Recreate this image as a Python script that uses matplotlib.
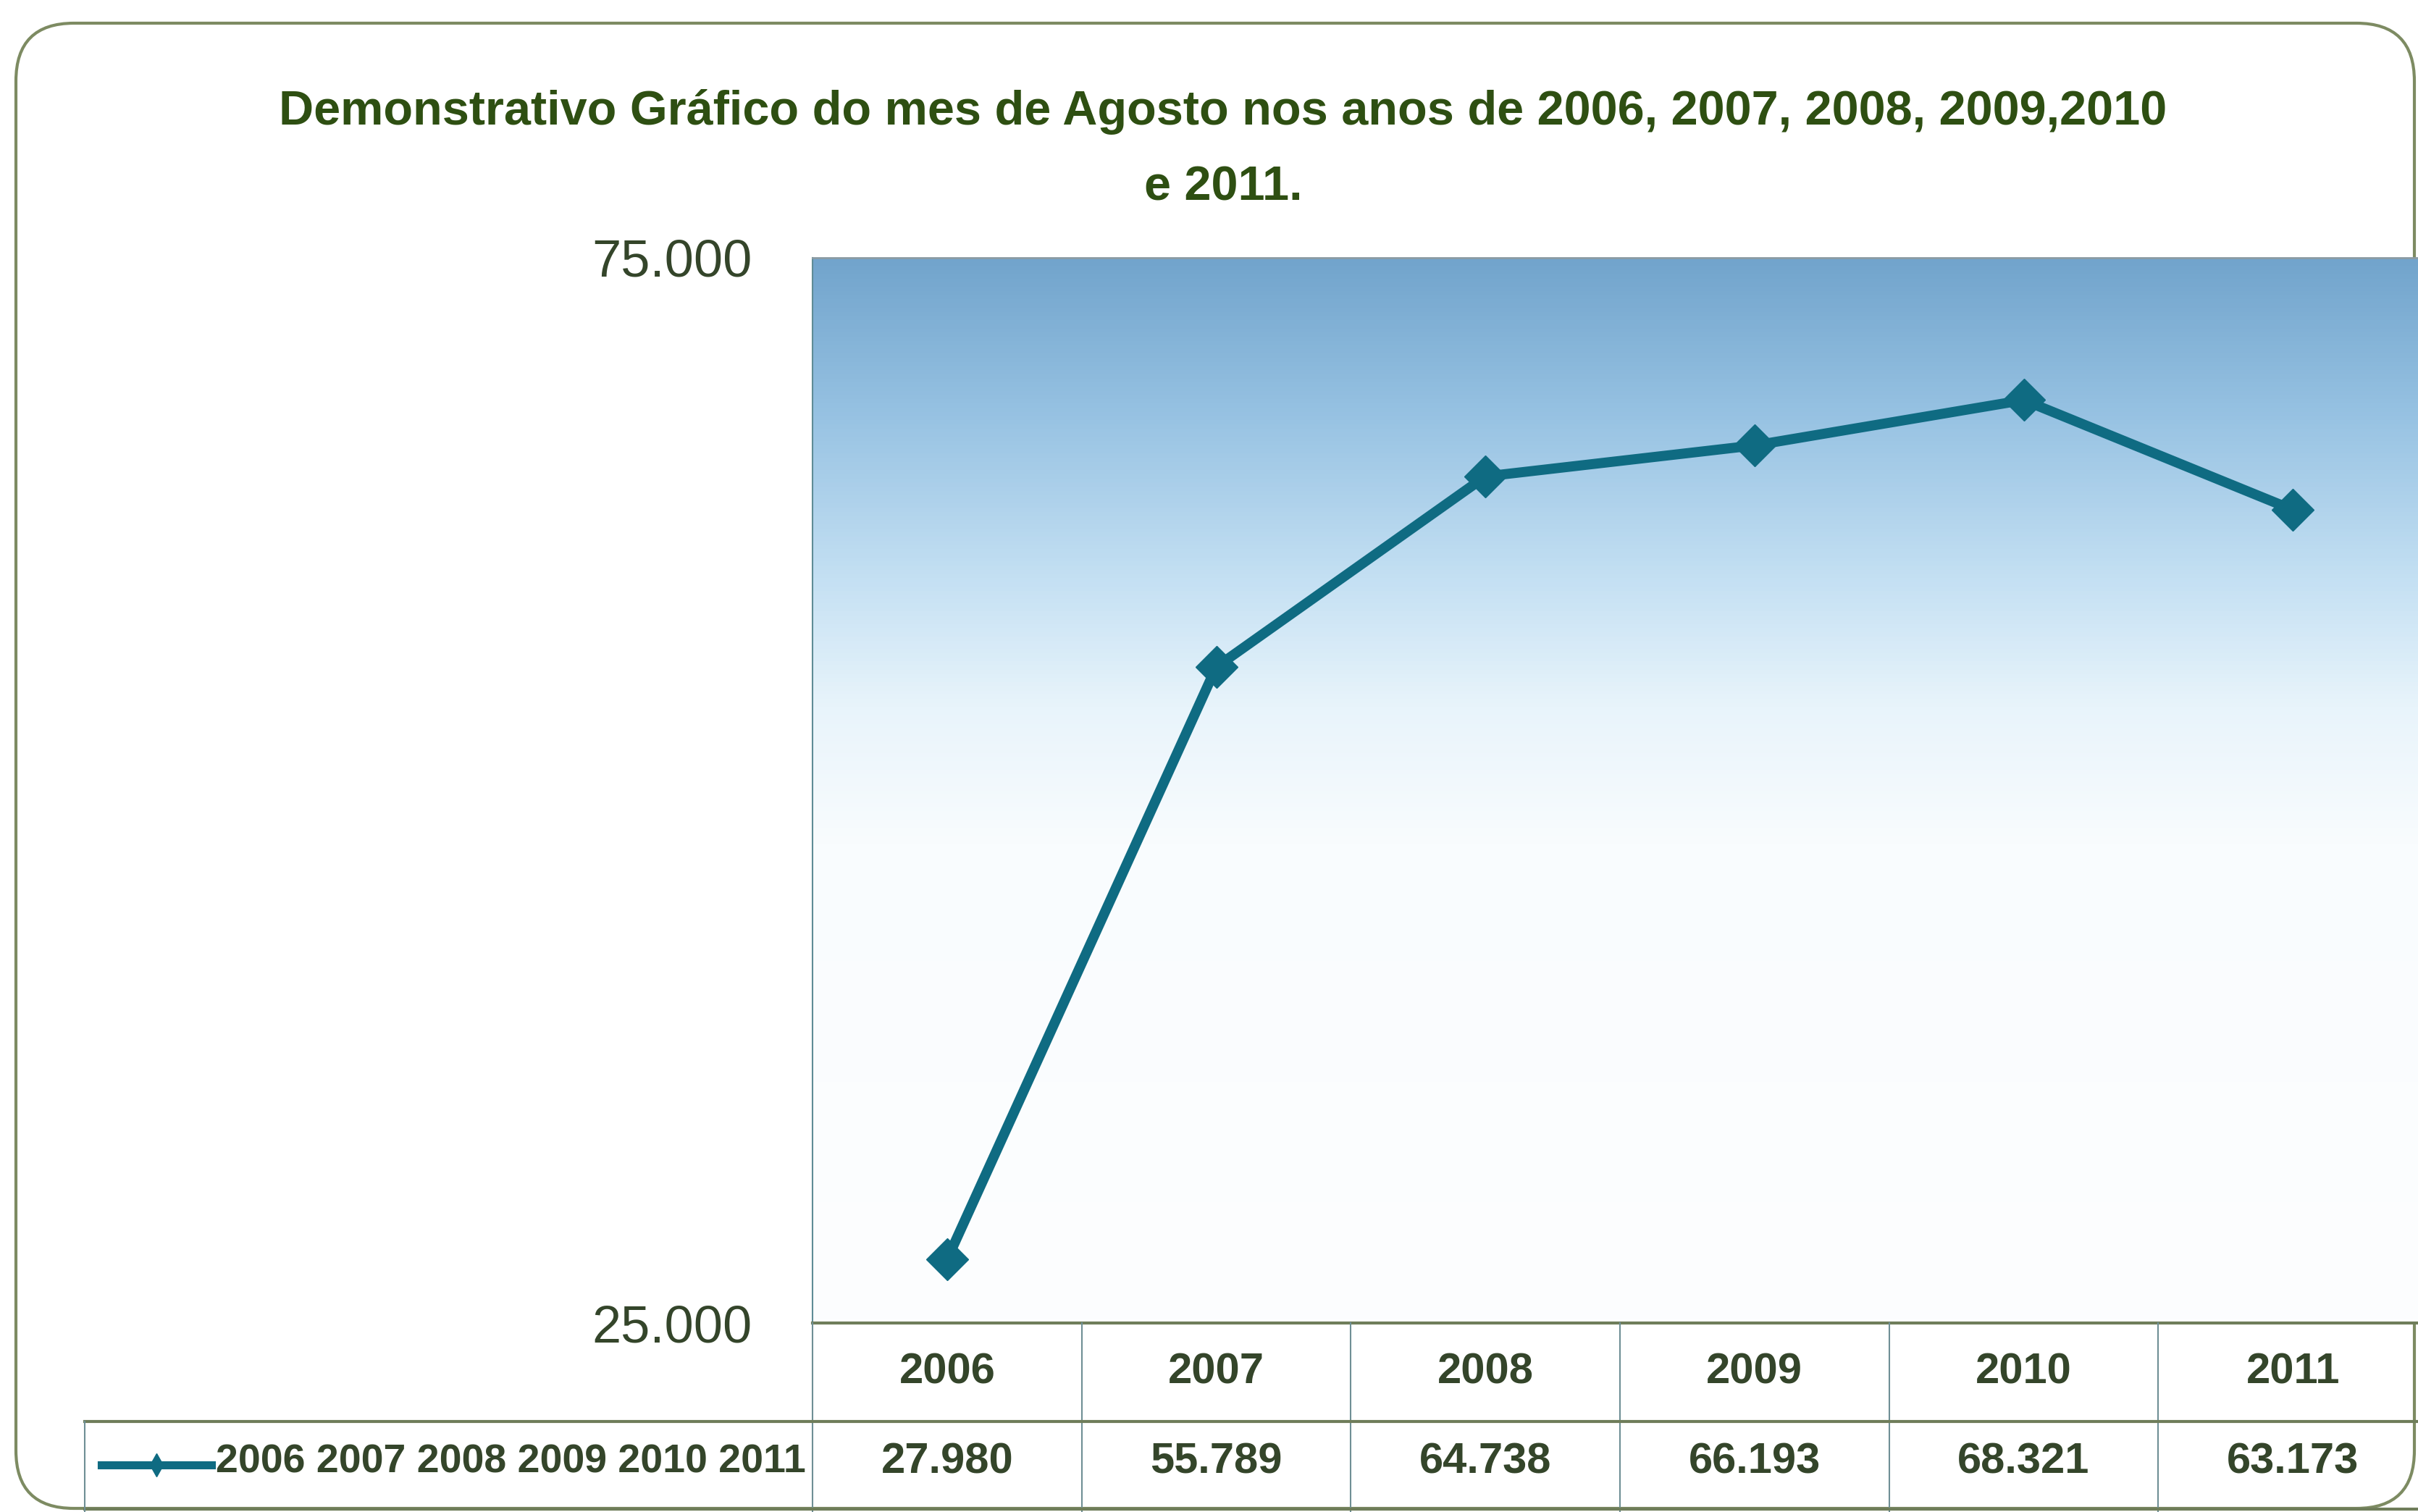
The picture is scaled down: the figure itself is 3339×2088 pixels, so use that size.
import matplotlib
matplotlib.use("Agg")
import matplotlib.pyplot as plt
import matplotlib.transforms as mtransforms
from matplotlib.colors import LinearSegmentedColormap
from matplotlib.lines import Line2D
from matplotlib.patches import FancyBboxPatch
import numpy as np

# dados do gráfico
anos = ["2006", "2007", "2008", "2009", "2010", "2011"]
valores = [27980, 55789, 64738, 66193, 68321, 63173]
y_ticks = [25000, 75000]
serie_nome = "2006 2007 2008 2009 2010 2011"
titulo_1 = "Demonstrativo Gráfico do mes de Agosto nos anos de 2006, 2007, 2008, 2009,2010"
titulo_2 = "e 2011."

plt.rcParams["font.family"] = ["Liberation Sans", "DejaVu Sans"]

W_PX, H_PX = 3339, 2088
VERDE = "#2e4f12"
TEXTO = "#34452a"
LINHA = "#0f6b82"


def fx(px):
    return px / W_PX


def fy(py):
    # py medido a partir do topo
    return 1 - py / H_PX


def fmt(v):
    return f"{v:,}".replace(",", ".")


fig = plt.figure(figsize=(W_PX / 100, H_PX / 100), dpi=100)
fig.patch.set_facecolor("white")

# moldura arredondada
moldura = FancyBboxPatch((22 / 100, 5 / 100), 3312 / 100, 2051 / 100,
                         boxstyle="round,pad=0,rounding_size=0.8",
                         transform=fig.dpi_scale_trans, facecolor="none",
                         edgecolor="#7d8b62", linewidth=3, zorder=0)
fig.add_artist(moldura)

# título
fig.text(fx(1689), fy(155), titulo_1, ha="center", va="center",
         fontsize=48, fontweight="bold", color=VERDE)
fig.text(fx(1689), fy(260), titulo_2, ha="center", va="center",
         fontsize=48, fontweight="bold", color=VERDE)

ax_left, ax_right, ax_top, ax_bottom = 1122, 3352, 356, 1827
ax = fig.add_axes([fx(ax_left), fy(ax_bottom), fx(ax_right - ax_left), (ax_bottom - ax_top) / H_PX])

# fundo em degradê azul
cmap = LinearSegmentedColormap.from_list(
    "fundo",
    [(0.0, "#fdfeff"), (0.45, "#f9fcfe"), (0.58, "#e8f4fb"), (0.7, "#c4e0f3"),
     (0.85, "#98c3e3"), (1.0, "#72a4cc")])
grad = np.linspace(0, 1, 256).reshape(-1, 1)
ax.imshow(grad, extent=[0, 1, 0, 1], transform=ax.transAxes, aspect="auto",
          cmap=cmap, origin="lower", zorder=0)

x = np.arange(len(anos))
ax.plot(x, valores, color=LINHA, linewidth=10, marker="D", markersize=30,
        markerfacecolor=LINHA, markeredgecolor=LINHA, zorder=3, clip_on=False)

ax.set_xlim(-0.5, len(anos) - 0.5)
ax.set_ylim(y_ticks[0], y_ticks[-1])
ax.set_yticks(y_ticks)
ax.set_yticklabels([fmt(v) for v in y_ticks])
ax.set_xticks([])
ax.tick_params(axis="y", length=0, pad=60, labelsize=52, labelcolor=TEXTO)

ax.spines["right"].set_visible(False)
ax.spines["top"].set_color("#8a9ba3")
ax.spines["top"].set_linewidth(2)
ax.spines["left"].set_color("#5f8c96")
ax.spines["left"].set_linewidth(1.5)
ax.spines["bottom"].set_color("#6f7d5a")
ax.spines["bottom"].set_linewidth(3)

# tabela de dados abaixo do gráfico
trans = mtransforms.blended_transform_factory(ax.transData, fig.transFigure)
y_ano, y_val = fy(1895), fy(2019)
for i, (ano, v) in enumerate(zip(anos, valores)):
    ax.text(i, y_ano, ano, transform=trans, ha="center", va="center",
            fontsize=43, fontweight="bold", color=TEXTO, clip_on=False)
    ax.text(i, y_val, fmt(v), transform=trans, ha="center", va="center",
            fontsize=43, fontweight="bold", color=TEXTO, clip_on=False)

# linhas verticais da tabela
for i in range(len(anos)):
    fig.add_artist(Line2D([i - 0.5, i - 0.5], [fy(ax_bottom), fy(2088)],
                          transform=trans, color="#6f8f95", linewidth=1.5))

# linhas horizontais da tabela
fig.add_artist(Line2D([fx(117), 1], [fy(1963), fy(1963)], transform=fig.transFigure,
                      color="#6f7d5a", linewidth=3))
fig.add_artist(Line2D([fx(117), 1], [fy(2084), fy(2084)], transform=fig.transFigure,
                      color="#6f7d5a", linewidth=3))
fig.add_artist(Line2D([fx(117), fx(117)], [fy(1963), fy(2088)], transform=fig.transFigure,
                      color="#6f8f95", linewidth=1.5))

# legenda da série
fig.add_artist(Line2D([fx(140), fx(292)], [fy(2023), fy(2023)], transform=fig.transFigure,
                      color=LINHA, linewidth=8))
fig.add_artist(Line2D([fx(216)], [fy(2023)], transform=fig.transFigure, color=LINHA,
                      marker="d", markersize=16, linestyle="none"))
fig.text(fx(298), y_val, serie_nome, ha="left", va="center", fontsize=40,
         fontweight="bold", color=TEXTO)

fig.savefig("out.png", dpi=100, facecolor="white")
